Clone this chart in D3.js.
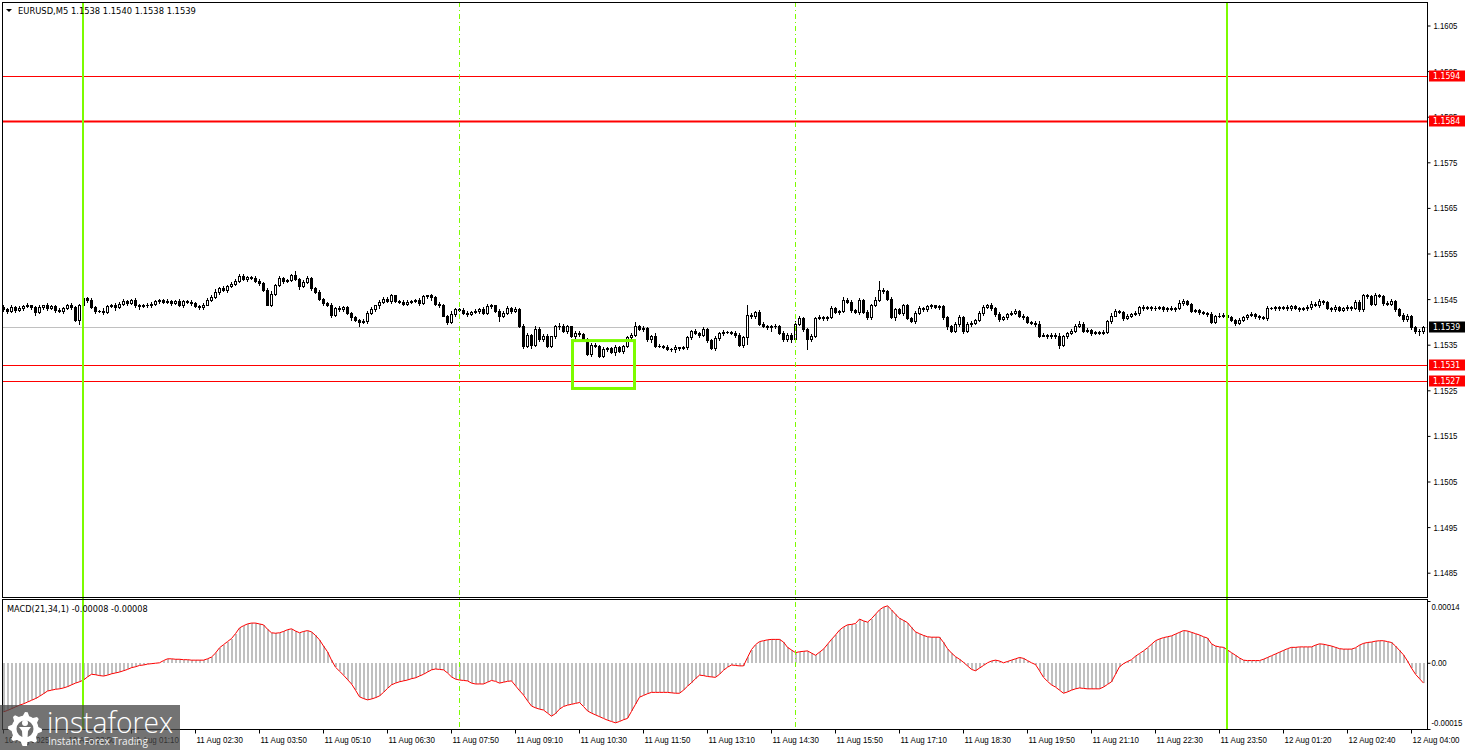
<!DOCTYPE html>
<html>
<head>
<meta charset="utf-8">
<script src="https://cdn.jsdelivr.net/npm/d3@7"></script>
<style>
body { margin: 0; background: white; }
svg { display: block; font-family: "DejaVu Sans", sans-serif; }
.axis text { font-size: 9.5px; fill: black; }
.axis line { stroke: black; }
.axis path { display: none; }
</style>
</head>
<body>
<script>

const symbol = "EURUSD,M5";
const lastOHLC = [1.1538, 1.1540, 1.1538, 1.1539];
const macdTitle = "MACD(21,34,1)";
const macdLast = [-0.00008, -0.00008];

// M5 closes, in points above 1.15000 (open = previous close)
const base = 1.15;
const firstOpen = 432;
const closePts = [
  428,424,432,426,430,434,436,432,421,432,
  436,430,434,426,424,430,436,432,405,436,
  452,448,432,424,425,422,435,438,432,440,
  446,442,448,436,434,438,436,440,446,448,
  444,446,442,446,436,446,444,442,434,432,
  438,448,455,466,474,470,478,484,490,500,
  494,498,496,490,486,470,438,462,480,496,
  490,492,502,494,478,488,496,474,466,450,
  441,437,416,430,428,432,420,410,404,400,
  402,420,428,436,444,450,446,458,446,444,
  440,444,446,448,442,456,458,454,440,436,
  414,400,418,428,426,420,418,422,424,428,
  420,434,436,424,412,420,430,424,428,391,
  347,372,350,385,362,370,348,368,390,392,
  380,390,368,376,373,362,330,350,347,326,
  340,343,333,344,336,347,366,372,391,384,
  386,362,370,347,348,346,340,340,344,342,
  345,366,380,376,372,384,360,342,364,375,
  377,378,376,372,350,366,416,412,422,396,
  392,388,390,392,376,362,372,362,396,408,
  385,362,370,408,410,408,410,430,422,424,
  448,444,426,422,448,422,410,436,448,470,
  468,450,410,428,420,436,408,402,420,430,
  428,434,436,432,434,410,390,380,396,410,
  380,396,398,404,420,432,436,430,418,406,
  410,418,420,424,414,410,400,398,396,370,
  372,368,372,370,350,368,376,380,392,396,
  380,382,376,378,376,378,402,414,424,422,
  408,414,418,420,432,430,432,430,430,432,
  428,430,428,430,442,446,440,424,426,422,
  420,418,400,412,414,416,410,405,398,404,
  410,416,418,412,410,408,430,430,432,430,
  432,430,434,430,428,430,432,440,436,446,
  444,430,428,432,426,430,432,430,444,428,
  458,456,440,458,456,442,440,446,428,416,
  406,414,388,380,380,389
];
// wick lengths above / below the body, points
const wickUp = [
  4,3,5,2,4,3,6,2,3,4,2,5,3,3,4,2,3,5,2,4,
  8,2,4,3,2,5,3,2,4,3,5,2,3,4,3,2,4,3,2,3,
  3,4,2,3,5,2,3,3,2,4,3,5,4,6,3,5,2,4,3,5,
  4,3,2,5,3,2,4,6,3,4,3,2,4,10,3,4,5,2,3,4,
  3,2,4,3,5,2,3,2,4,3,5,3,4,2,3,5,4,3,2,3,
  4,3,2,3,5,3,2,4,3,4,3,2,5,3,2,4,3,3,5,2,
  4,6,3,2,4,3,5,2,4,3,4,3,2,5,3,4,3,2,4,6,
  3,4,2,3,5,3,2,4,3,3,4,2,3,5,3,2,4,3,8,3,
  4,3,2,5,3,2,4,3,5,2,3,4,3,5,2,4,3,2,4,3,
  5,3,2,4,3,3,22,4,3,5,3,2,4,3,2,3,4,3,5,4,
  3,2,4,3,5,3,4,5,3,2,6,4,3,2,5,3,4,3,6,19,
  4,3,5,3,2,4,3,2,4,5,3,4,3,2,4,3,2,4,3,5,
  4,3,5,2,3,4,3,5,2,4,3,2,3,4,2,3,4,2,3,5,
  3,2,4,3,5,3,2,4,3,5,3,4,2,3,2,4,3,5,4,3,
  3,4,2,5,3,4,3,2,4,3,2,3,4,2,5,4,3,2,3,2,
  3,2,4,3,5,3,2,3,2,4,3,2,3,2,3,4,5,2,3,2,
  3,4,2,3,2,3,4,5,3,4,3,2,3,4,3,2,4,3,5,3,
  4,3,2,5,3,2,3,4,3,2,4,3,2,3,4,2
];
const wickDn = [
  3,4,2,5,3,4,2,3,5,2,4,3,2,4,3,5,2,3,3,9,
  3,4,2,5,3,4,2,3,5,2,3,4,2,3,5,2,4,3,2,4,
  3,2,4,3,2,4,3,5,2,3,4,2,3,2,4,3,5,2,3,2,
  3,4,2,3,5,3,2,4,3,2,4,3,2,3,5,2,3,4,2,3,
  4,3,5,2,3,4,2,5,3,8,3,4,2,3,5,2,3,4,2,3,
  3,4,2,3,4,2,3,5,4,3,2,5,3,4,2,3,4,2,3,5,
  3,2,4,3,9,2,3,4,2,3,5,3,8,2,4,3,2,4,3,5,
  3,4,2,3,4,2,3,5,3,2,4,3,2,5,3,4,2,3,3,2,
  4,3,5,2,3,4,2,3,5,3,2,4,3,2,6,3,4,2,3,3,
  4,2,3,5,3,4,15,3,4,2,3,4,8,3,2,4,3,5,3,2,
  4,22,3,4,2,3,4,2,3,5,3,2,4,3,5,2,3,4,2,3,
  4,3,2,5,3,4,2,3,4,2,3,5,3,2,3,4,6,3,2,4,
  5,3,4,2,3,4,2,3,5,3,2,4,3,2,3,4,2,3,4,3,
  2,4,3,5,8,3,4,2,3,4,2,3,4,2,3,2,3,4,2,3,
  4,2,3,2,4,3,2,4,3,2,3,4,2,3,2,4,3,2,3,4,
  3,4,2,3,2,4,3,2,4,3,2,3,2,4,3,2,3,2,4,3,
  2,3,4,2,3,2,4,3,2,3,4,2,3,5,3,2,4,3,2,3,
  3,4,2,3,2,4,3,2,3,4,3,5,3,4,9,5
];
// MACD main value per bar, in units of 0.00001
const macdPts = [
  -11.1,-10.8,-10.4,-10.0,-9.6,-9.3,-8.9,-8.5,-8.1,-7.6,
  -7.0,-6.4,-6.2,-6.0,-5.9,-5.7,-5.4,-5.0,-4.6,-4.3,
  -3.9,-3.2,-2.6,-2.7,-2.9,-3.0,-2.8,-2.5,-2.3,-2.1,
  -1.8,-1.5,-1.1,-0.9,-0.6,-0.5,-0.3,-0.2,-0.1,0.0,
  0.5,0.9,0.9,0.8,0.8,0.7,0.7,0.6,0.6,0.6,
  0.6,0.9,1.3,2.2,3.4,4.1,4.8,5.5,6.6,7.9,
  8.4,8.8,9.0,9.0,8.8,8.6,7.6,6.8,6.7,6.8,
  7.1,7.5,7.7,7.2,6.8,7.1,7.3,7.0,6.2,5.2,
  3.8,2.5,0.6,-1.0,-1.9,-2.8,-3.8,-4.8,-6.2,-7.7,
  -8.1,-8.4,-8.2,-7.9,-7.5,-6.7,-5.8,-5.0,-4.6,-4.3,
  -4.1,-3.9,-3.6,-3.4,-3.0,-2.6,-2.1,-1.6,-1.4,-1.5,
  -1.6,-2.3,-3.2,-3.7,-3.9,-4.0,-4.1,-4.6,-4.8,-4.8,
  -4.8,-4.4,-4.0,-4.2,-4.6,-4.4,-4.2,-4.1,-5.2,-6.3,
  -7.3,-8.6,-9.8,-10.2,-10.5,-10.7,-11.4,-12.1,-11.5,-10.5,
  -9.9,-9.6,-9.4,-9.2,-9.0,-9.9,-10.9,-11.4,-11.8,-12.2,
  -12.6,-13.0,-13.3,-13.6,-13.3,-12.9,-12.6,-11.0,-9.4,-7.8,
  -7.4,-7.0,-6.7,-6.7,-6.7,-6.7,-6.7,-6.8,-6.9,-6.9,
  -6.2,-5.3,-4.5,-3.6,-2.8,-2.9,-3.1,-3.2,-3.3,-2.6,
  -1.7,-1.0,-0.5,-0.6,-0.7,-0.7,1.2,3.0,4.1,4.8,
  5.0,5.2,5.3,5.3,5.3,4.7,3.5,2.9,2.3,2.5,
  2.6,2.7,2.2,1.7,2.4,3.1,4.2,5.3,6.3,7.4,
  8.1,8.6,8.7,8.9,9.9,9.5,9.2,10.0,11.0,12.0,
  12.6,12.9,12.0,11.0,10.1,9.6,9.1,8.0,7.0,6.6,
  6.2,5.9,5.8,5.8,5.8,4.6,3.2,2.2,1.4,0.8,
  0.1,-0.7,-1.5,-1.8,-1.2,-0.6,0.0,0.4,0.6,0.4,
  0.0,0.3,0.6,0.9,1.2,1.0,0.5,0.0,-0.4,-1.8,
  -3.3,-4.2,-5.0,-5.5,-6.2,-6.9,-6.6,-6.2,-5.9,-5.7,
  -5.8,-5.9,-5.9,-5.9,-5.9,-5.5,-4.9,-4.3,-2.6,-0.9,
  -0.2,0.3,0.7,1.5,2.1,2.7,3.4,4.2,5.0,5.4,
  5.7,5.9,6.1,6.5,6.9,7.3,7.2,6.9,6.6,6.3,
  5.9,5.6,4.3,3.8,3.6,3.5,2.9,2.3,1.7,1.1,
  0.6,0.5,0.5,0.5,0.5,0.8,1.2,1.6,2.0,2.4,
  2.8,3.2,3.5,3.5,3.6,3.6,3.6,3.6,4.0,4.3,
  4.2,4.0,3.8,3.5,3.2,3.1,3.1,3.1,3.4,4.0,
  4.4,4.6,4.7,4.9,5.0,5.0,4.8,4.6,3.8,2.8,
  1.8,0.4,-1.2,-2.6,-3.6,-4.6
];

const priceTicks = [1.1605, 1.1595, 1.1585, 1.1575, 1.1565, 1.1555, 1.1545,
                    1.1535, 1.1525, 1.1515, 1.1505, 1.1495, 1.1485];
const macdTicks = [0.00014, 0, -0.00015];
const levels = [1.1594, 1.1584, 1.15306, 1.1527];
const solidMarks = [20, 306];
const dashMarks = [114, 198];
const boxes = [{from: 142, to: 158, top: 1.15359, bottom: 1.15254}];
const timeLabels = ["10 Aug 2025", "10 Aug 23:50", "11 Aug 01:10", "11 Aug 02:30",
  "11 Aug 03:50", "11 Aug 05:10", "11 Aug 06:30", "11 Aug 07:50", "11 Aug 09:10",
  "11 Aug 10:30", "11 Aug 11:50", "11 Aug 13:10", "11 Aug 14:30", "11 Aug 15:50",
  "11 Aug 17:10", "11 Aug 18:30", "11 Aug 19:50", "11 Aug 21:10", "11 Aug 22:30",
  "11 Aug 23:50", "12 Aug 01:20", "12 Aug 02:40", "12 Aug 04:00"];
const labelStep = 16;

const W = 1468, H = 750;
const left = 2, right = 1427, mainTop = 2, mainBottom = 597, macdTop = 600, macdBottom = 729;
const green = "#7cfc00";

// hyphen minus like the terminal, not the unicode one
const loc = d3.formatLocale({decimal: ".", thousands: ",", grouping: [3], currency: ["", ""], minus: "-"});
const fmt4 = loc.format(".4f");
const fmt5 = loc.format(".5f");

// narrow the DejaVu glyphs a bit so they read like the terminal's Tahoma
function squeeze(sel, k) {
  sel.each(function() {
    const len = this.getComputedTextLength();
    d3.select(this).attr("textLength", len * k).attr("lengthAdjust", "spacingAndGlyphs");
  });
}

const svg = d3.select("body").append("svg").attr("width", W).attr("height", H);
svg.append("rect").attr("width", W).attr("height", H).attr("fill", "white");

const n = closePts.length;
const x = d3.scaleLinear().domain([0, n - 1]).range([3, 3 + 4 * (n - 1)]);
const y = d3.scaleLinear().domain([1.1605, 1.1485]).range([25.5, 572.7]);
const yM = d3.scaleLinear().domain([-0.00015, 0.00014]).range([macdBottom, 601]);

const candles = closePts.map((c, i) => {
  const o = i === 0 ? firstOpen : closePts[i - 1];
  return {
    i,
    o: base + o / 1e5,
    c: base + c / 1e5,
    h: base + (Math.max(o, c) + (wickUp[i] || 0)) / 1e5,
    l: base + (Math.min(o, c) - (wickDn[i] || 0)) / 1e5
  };
});
const lastClose = candles[n - 1].c;

svg.append("clipPath").attr("id", "mainClip")
  .append("rect").attr("x", left).attr("y", mainTop).attr("width", right - left).attr("height", mainBottom - mainTop);
svg.append("clipPath").attr("id", "macdClip")
  .append("rect").attr("x", left).attr("y", macdTop).attr("width", right - left).attr("height", macdBottom - macdTop);

const main = svg.append("g").attr("clip-path", "url(#mainClip)");

// bid line
main.append("line")
  .attr("x1", left).attr("x2", right)
  .attr("y1", Math.round(y(lastClose)) + 0.5).attr("y2", Math.round(y(lastClose)) + 0.5)
  .attr("stroke", "#c0c0c0");

// candles
const cg = main.append("g").attr("shape-rendering", "crispEdges");
cg.selectAll("line.wick").data(candles).enter().append("line")
  .attr("class", "wick")
  .attr("x1", d => x(d.i) + 0.5).attr("x2", d => x(d.i) + 0.5)
  .attr("y1", d => Math.round(y(d.h))).attr("y2", d => Math.round(y(d.l)) + 1)
  .attr("stroke", "black");

cg.selectAll("rect.body").data(candles).enter().append("rect")
  .attr("class", "body")
  .each(function(d) {
    const top = Math.round(y(Math.max(d.o, d.c)));
    const bot = Math.round(y(Math.min(d.o, d.c)));
    const el = d3.select(this);
    if (d.c > d.o && bot - top >= 2) {
      el.attr("x", x(d.i) - 0.5).attr("y", top + 0.5)
        .attr("width", 2).attr("height", bot - top)
        .attr("fill", "white").attr("stroke", "black");
    } else {
      el.attr("x", x(d.i) - 1).attr("y", top)
        .attr("width", 3).attr("height", Math.max(bot - top + 1, 1))
        .attr("fill", "black");
    }
  });

// horizontal levels
main.selectAll("line.level").data(levels).enter().append("line")
  .attr("x1", left).attr("x2", right)
  .attr("y1", d => Math.round(y(d)) + 0.5).attr("y2", d => Math.round(y(d)) + 0.5)
  .attr("stroke", "red")
  .attr("stroke-width", d => d === 1.1584 ? 2 : 1);

// rectangle object
main.selectAll("rect.box").data(boxes).enter().append("rect")
  .attr("x", d => x(d.from) + 1.5).attr("y", d => y(d.top))
  .attr("width", d => x(d.to) - x(d.from) - 2).attr("height", d => y(d.bottom) - y(d.top))
  .attr("fill", "none").attr("stroke", green).attr("stroke-width", 3);

// MACD
const mg = svg.append("g").attr("clip-path", "url(#macdClip)");
const macd = macdPts.map((v, i) => ({i, v: v * 1e-5}));
mg.append("g").attr("shape-rendering", "crispEdges")
  .selectAll("rect").data(macd).enter().append("rect")
  .attr("x", d => x(d.i)).attr("width", 2)
  .attr("y", d => Math.min(yM(0), yM(d.v)))
  .attr("height", d => Math.abs(yM(d.v) - yM(0)))
  .attr("fill", "#c0c0c0");
mg.append("path").datum(macd)
  .attr("d", d3.line().x(d => x(d.i) + 0.5).y(d => yM(d.v)))
  .attr("fill", "none").attr("stroke", "red").attr("stroke-width", 1);

// vertical lines across both panels
svg.selectAll("line.vsolid").data(solidMarks).enter().append("line")
  .attr("x1", d => x(d)).attr("x2", d => x(d))
  .attr("y1", mainTop).attr("y2", macdBottom)
  .attr("stroke", green).attr("stroke-width", 2);
svg.selectAll("line.vdash").data(dashMarks).enter().append("line")
  .attr("x1", d => x(d) + 0.5).attr("x2", d => x(d) + 0.5)
  .attr("y1", mainTop).attr("y2", macdBottom)
  .attr("stroke", green).attr("stroke-width", 1)
  .attr("stroke-dasharray", "5,3,1,3");

// frames
svg.append("rect").attr("x", left + 0.5).attr("y", mainTop + 0.5)
  .attr("width", right - left).attr("height", mainBottom - mainTop)
  .attr("fill", "none").attr("stroke", "black");
svg.append("rect").attr("x", left + 0.5).attr("y", macdTop - 0.5)
  .attr("width", right - left).attr("height", macdBottom - macdTop + 1)
  .attr("fill", "none").attr("stroke", "black");

// price axis
const priceAxis = svg.append("g").attr("class", "axis")
  .attr("transform", `translate(${right + 0.5},0)`)
  .call(d3.axisRight(y).tickValues(priceTicks).tickFormat(fmt4).tickSize(3).tickPadding(3));
squeeze(priceAxis.selectAll(".tick text"), 0.82);

// level price tags
const tags = svg.append("g");
function tag(v, fill) {
  const g = tags.append("g").attr("transform", `translate(1429,${Math.round(y(v))})`);
  g.append("rect").attr("x", 0).attr("y", -5.5).attr("width", 36).attr("height", 11).attr("fill", fill);
  const t = g.append("text").attr("x", 4).attr("y", 0).attr("dy", "0.35em")
    .attr("font-size", 9.5).attr("fill", "white").text(fmt4(v));
  squeeze(t, 0.82);
}
levels.forEach(v => tag(v, "red"));
tag(lastClose, "black");

// MACD axis
const macdAxis = svg.append("g").attr("class", "axis")
  .attr("transform", `translate(${right + 0.5},0)`)
  .call(d3.axisRight(yM).tickValues(macdTicks)
    .tickFormat(d => d === 0 ? "0.00" : fmt5(d)).tickSize(3).tickPadding(1));
macdAxis.selectAll(".tick text").attr("y", d => d > 0 ? 5.5 : d < 0 ? -6.5 : 0);
squeeze(macdAxis.selectAll(".tick text"), 0.82);

// time axis
const timeAxis = svg.append("g").attr("class", "axis")
  .attr("transform", `translate(0,${macdBottom + 0.5})`)
  .call(d3.axisBottom(x).tickValues(timeLabels.map((_, k) => k * labelStep))
    .tickFormat((d, k) => timeLabels[k]).tickSize(4).tickPadding(3));
timeAxis.selectAll(".tick text").attr("text-anchor", "start").attr("x", 1);
squeeze(timeAxis.selectAll(".tick text"), 0.84);

// header texts
svg.append("path").attr("d", "M6,9L12,9L9,12Z").attr("fill", "black");
squeeze(svg.append("text").attr("x", 18).attr("y", 14).attr("font-size", 9.5)
  .text(symbol + "  " + lastOHLC.map(fmt4).join(" ")), 0.88);
squeeze(svg.append("text").attr("x", 7).attr("y", 611.5).attr("font-size", 9.5)
  .text(macdTitle + " " + macdLast.map(fmt5).join(" ")), 0.86);

// watermark
const logo = svg.append("g");
logo.append("rect").attr("x", 0).attr("y", 705).attr("width", 180).attr("height", 45)
  .attr("fill", "#444").attr("opacity", 0.75);
const gear = [];
for (let k = 0; k < 40; k++) {
  const a = k * Math.PI * 2 / 40;
  const r = (k % 5 < 2) ? 17 : 13.5;
  gear.push([25 + r * Math.cos(a), 729 + r * Math.sin(a)]);
}
logo.append("path").attr("d", d3.line()(gear) + "Z").attr("fill", "white");
logo.append("circle").attr("cx", 25).attr("cy", 729).attr("r", 8.5).attr("fill", "#6e6e6e");
logo.append("circle").attr("cx", 25).attr("cy", 723).attr("r", 3).attr("fill", "white");
logo.append("path").attr("d", "M19,727L31,727L28,731L27,746L23,746L22,731Z").attr("fill", "white");
logo.append("text").attr("x", 47).attr("y", 733).attr("font-family", "'Open Sans', sans-serif")
  .attr("font-weight", 300).attr("font-size", 30).attr("fill", "white")
  .attr("textLength", 126).attr("lengthAdjust", "spacingAndGlyphs").text("instaforex");
logo.append("text").attr("x", 48).attr("y", 745).attr("font-family", "'Open Sans', sans-serif")
  .attr("font-size", 11).attr("fill", "white").attr("opacity", 0.9)
  .attr("textLength", 100).attr("lengthAdjust", "spacingAndGlyphs").text("Instant Forex Trading");

</script>
</body>
</html>
